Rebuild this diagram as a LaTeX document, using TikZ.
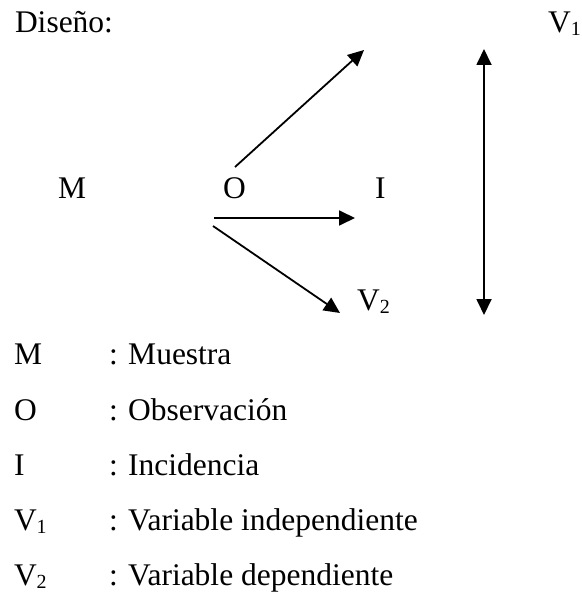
\documentclass[tikz,border=0pt]{standalone}
\usepackage{fontspec}
\setmainfont{Liberation Serif}
\usetikzlibrary{arrows.meta}
\newcommand{\mysub}[1]{\raisebox{-3pt}{\fontsize{20}{20}\selectfont #1}}
\tikzset{
  lbl/.style={anchor=base west, inner sep=0pt, outer sep=0pt, font=\fontsize{31.5}{37}\selectfont},
  arr/.style={line width=1.8pt, -{Triangle[length=16pt,width=15pt]}},
  darr/.style={line width=1.8pt, {Triangle[length=16pt,width=15pt]}-{Triangle[length=16pt,width=15pt]}}
}
\begin{document}
\begin{tikzpicture}[x=1pt,y=-1pt]
\useasboundingbox (0,0) rectangle (581,593);
% title and top labels
\node[lbl] (dis) at (15,33) {Diseño:};
\node[lbl] (v1top) at (548,33) {V\mysub{1}};
\node[lbl] (m) at (58,199) {M};
\node[lbl] (o) at (223,199) {O};
\node[lbl] (i) at (375,199) {I};
\node[lbl] (v2) at (357,310) {V\mysub{2}};
% arrow end points
\coordinate (upS) at (235,167);
\coordinate (upE) at (364,50);
\coordinate (hS) at (214,218);
\coordinate (hE) at (355,218);
\coordinate (dS) at (213,226);
\coordinate (dE) at (340,313);
\coordinate (vT) at (484,49);
\coordinate (vB) at (484,315);
\draw[arr] (upS) -- (upE);
\draw[arr] (hS) -- (hE);
\draw[arr] (dS) -- (dE);
\draw[darr] (vT) -- (vB);
% legend
\node[lbl] (lm) at (14,364) {M};
\node[lbl] (lmt) at (109,364) {: Muestra};
\node[lbl] (lo) at (14,420) {O};
\node[lbl] (lot) at (109,420) {: Observación};
\node[lbl] (li) at (14,475) {I};
\node[lbl] (lit) at (109,475) {: Incidencia};
\node[lbl] (lv1) at (14,530) {V\mysub{1}};
\node[lbl] (lv1t) at (109,530) {: Variable independiente};
\node[lbl] (lv2) at (14,585) {V\mysub{2}};
\node[lbl] (lv2t) at (109,585) {: Variable dependiente};
\end{tikzpicture}
\end{document}
